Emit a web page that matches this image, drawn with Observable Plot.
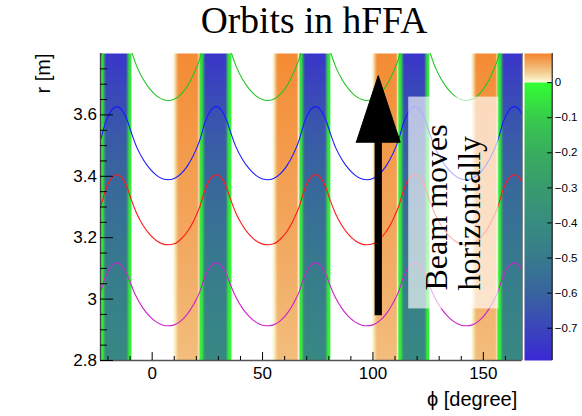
<!DOCTYPE html>
<html>
<head>
<meta charset="utf-8">
<script src="https://cdn.jsdelivr.net/npm/d3@7"></script>
<script src="https://cdn.jsdelivr.net/npm/@observablehq/plot@0.6"></script>
<style>
  body { margin: 0; background: #fff; }
  #chart { position: relative; width: 582px; height: 416px; overflow: hidden; }
  #chart svg { position: absolute; top: 0; }
  #title {
    position: absolute; left: 0; top: 2px; width: 628px; text-align: center;
    font: 37.5px "Liberation Serif", "Times New Roman", serif; line-height: 37.5px; color: #000;
  }
</style>
</head>
<body>
<div id="chart"><div id="title">Orbits in hFFA</div></div>
<script>
// ---- Lattice: every 45° cell holds an F magnet followed directly by a D magnet ----
const cellStart = [-35, 10, 55, 100, 145];               // φ of each F-magnet entrance [degree]
// Field profile across one cell, φ offset from the F entrance, as a fraction of peak F / D field
const profileOffset = [-0.6, 0, 1.9, 10.5, 11.3, 11.5, 11.6, 12.8, 14.0, 23.3, 24.3, 25.4, 25.7];
const profileF      = [0, 0.08, 1, 1, 0.1, 0, 0, 0, 0, 0, 0, 0, 0];
const profileD      = [0, 0, 0, 0, 0, 0, 0.05, 0.12, 1, 1, 0.12, 0.05, 0];
// Peak vertical field [T] of the F and D magnets at each radius
const fieldR = [2.8, 3.0, 3.2, 3.4, 3.6, 3.8];
const fieldF = [0.040, 0.047, 0.055, 0.062, 0.070, 0.078];
const fieldD = [-0.42, -0.47, -0.53, -0.59, -0.66, -0.75];

// ---- Closed orbits over one cell (φ offset from the F entrance) ----
const orbitOffset = [-2.8, 0, 3, 6, 9, 11.5, 14, 16.5, 19, 21.5, 24, 25.5, 28, 31, 34, 37, 40];
const orbitGreen   = [3.647, 3.651, 3.667, 3.694, 3.736, 3.781, 3.845, 3.884, 3.897, 3.884, 3.845, 3.810, 3.759, 3.715, 3.684, 3.662, 3.650];
const orbitBlue    = [3.389, 3.393, 3.408, 3.434, 3.473, 3.516, 3.577, 3.614, 3.627, 3.614, 3.577, 3.544, 3.495, 3.454, 3.424, 3.403, 3.391];
const orbitRed     = [3.177, 3.180, 3.195, 3.220, 3.258, 3.299, 3.357, 3.393, 3.405, 3.393, 3.357, 3.325, 3.279, 3.239, 3.210, 3.190, 3.179];
const orbitMagenta = [2.913, 2.916, 2.929, 2.952, 2.986, 3.022, 3.075, 3.107, 3.118, 3.107, 3.075, 3.046, 3.005, 2.969, 2.943, 2.925, 2.915];

// ---- Axes ----
const xMajor = [0, 50, 100, 150];
const xTickLabels = ["0", "50", "100", "150"];
const xMinor = [-20, -10, 10, 20, 30, 40, 60, 70, 80, 90, 110, 120, 130, 140, 160];
const yMajor = [2.8, 3.0, 3.2, 3.4, 3.6];
const yTickLabels = ["2.8", "3", "3.2", "3.4", "3.6"];
const yMinor = [2.85, 2.9, 2.95, 3.05, 3.1, 3.15, 3.25, 3.3, 3.35, 3.45, 3.5, 3.55, 3.65, 3.7, 3.75];
const barTicks = [0, -0.1, -0.2, -0.3, -0.4, -0.5, -0.6, -0.7];
const barTickLabels = ["0", "\u22120.1", "\u22120.2", "\u22120.3", "\u22120.4", "\u22120.5", "\u22120.6", "\u22120.7"];

// ---- Annotation ----
const noteLines = [{text: "Beam moves", phi: 133.5}, {text: "horizontally", phi: 148.7}];
const noteStartR = 3.028;
const noteBox = {phi1: 116.2, phi2: 157.0, r1: 2.968, r2: 3.658};
const arrowPhi = 102.4, arrowTail = 2.947, arrowHeadBase = 3.511, arrowTip = 3.728, arrowHalfWidth = 9.95;

// ---- Colour palette of the field map (white where the field is exactly zero) ----
const colorStops = [-0.792, -0.7, -0.6, -0.5, -0.4, -0.3, -0.2, -0.1, -0.0001, 0, 0.0001, 0.005, 0.022, 0.05, 0.083];
const colorRange = ["#3b28d6", "#3a46bc", "#38649f", "#377b8d", "#378c80", "#389b6f", "#38ad5f", "#37cc4c",
                    "#33ff33", "#ffffff", "#fffbe8", "#fdf3d2", "#f5d9a0", "#f2ae68", "#f5852a"];
const colorScale = {type: "linear", domain: colorStops, range: colorRange, interpolate: "rgb", clamp: true};

// Field samples on the (φ, r) grid
const fieldPts = [];
for (const c of cellStart)
  profileOffset.forEach((o, i) =>
    fieldR.forEach((r, j) =>
      fieldPts.push({phi: c + o, r, b: fieldF[j] * profileF[i] + fieldD[j] * profileD[i]})));

// Orbit points, one period per lattice cell
const orbitSets = [
  {r: orbitGreen, color: "#22c422"},
  {r: orbitBlue, color: "#1a1aff"},
  {r: orbitRed, color: "#ff1a1a"},
  {r: orbitMagenta, color: "#cc22cc"}
];
const orbitPts = o => cellStart.flatMap(c => orbitOffset.map((d, i) => ({phi: c + d, r: o.r[i]})));

const W = 582, H = 416, mL = 100, mR = 60.3, mT = 53, mB = 56;
const frameW = W - mL - mR, frameH = H - mT - mB;
const xDomain = [-23.4, 167.6], yDomain = [2.8, 3.8];
const sans = "Liberation Sans, Arial, Helvetica, sans-serif";
const serif = "Liberation Serif, Times New Roman, serif";

const main = Plot.plot({
  width: W, height: H,
  marginLeft: mL, marginRight: mR, marginTop: mT, marginBottom: mB,
  x: {domain: xDomain, axis: null},
  y: {domain: yDomain, axis: null},
  color: colorScale,
  style: {background: "transparent", overflow: "visible"},
  marks: [
    Plot.raster(fieldPts, {x: "phi", y: "r", fill: "b", interpolate: "barycentric",
      x1: xDomain[0], x2: xDomain[1], y1: yDomain[0], y2: yDomain[1]}),
    ...orbitSets.map(o => Plot.line(orbitPts(o), {x: "phi", y: "r", stroke: o.color, strokeWidth: 1.1,
      curve: "monotone-x", clip: true})),
    // frame lines
    Plot.ruleX([xDomain[0]], {stroke: "#444", strokeWidth: 1.3}),
    Plot.ruleX([xDomain[1]], {stroke: "#666", strokeWidth: 1}),
    Plot.ruleY([yDomain[0]], {stroke: "#555", strokeWidth: 1.5}),
    // inward ticks
    Plot.tickX(xMajor, {x: d => d, insetTop: frameH - 8, stroke: "#000"}),
    Plot.tickX(xMinor, {x: d => d, insetTop: frameH - 4, stroke: "#000"}),
    Plot.tickY(yMajor, {y: d => d, insetRight: frameW - 13, stroke: "#000"}),
    Plot.tickY(yMinor, {y: d => d, insetRight: frameW - 7, stroke: "#000"}),
    // tick labels
    Plot.text(xMajor, {x: d => d, text: (d, i) => xTickLabels[i], frameAnchor: "bottom", lineAnchor: "top",
      dy: 6, fontSize: 17, fontFamily: sans, fill: "#000"}),
    Plot.text(yMajor, {y: d => d, text: (d, i) => yTickLabels[i], frameAnchor: "left", textAnchor: "end",
      dx: -3.5, fontSize: 17, fontFamily: sans, fill: "#000"}),
    // axis titles
    Plot.text(["r [m]"], {frameAnchor: "top-left", rotate: -90, textAnchor: "end", dx: -65, dy: 0,
      fontSize: 20, fontFamily: sans, fill: "#000"}),
    Plot.text(["\u03d5 [degree]"], {frameAnchor: "bottom-right", textAnchor: "end", lineAnchor: "bottom",
      dx: -5, dy: 45, fontSize: 20, fontFamily: sans, fill: "#000"}),
    // note box and text
    Plot.rect([noteBox], {x1: "phi1", x2: "phi2", y1: "r1", y2: "r2", fill: "white", fillOpacity: 0.65}),
    Plot.text(noteLines, {x: "phi", y: () => noteStartR, text: "text", rotate: -90, textAnchor: "start",
      lineAnchor: "bottom", fontSize: 32, fontFamily: serif, fill: "#000"}),
    // arrow
    Plot.line([{phi: arrowPhi, r: arrowTail}, {phi: arrowPhi, r: arrowHeadBase + 0.01}],
      {x: "phi", y: "r", stroke: "#000", strokeWidth: 7.3, strokeLinecap: "butt"}),
    Plot.line([
        {phi: arrowPhi - arrowHalfWidth, r: arrowHeadBase},
        {phi: arrowPhi, r: arrowTip},
        {phi: arrowPhi + arrowHalfWidth, r: arrowHeadBase},
        {phi: arrowPhi - arrowHalfWidth, r: arrowHeadBase}
      ], {x: "phi", y: "r", fill: "#000", stroke: "#000", strokeWidth: 1})
  ]
});

// Colour bar to the right of the frame
const cbLeft = 520, cbW = 62, cbML = 4, cbMR = 30.3;
const bar = Plot.plot({
  width: cbW, height: H,
  marginLeft: cbML, marginRight: cbMR, marginTop: mT, marginBottom: mB,
  x: {domain: [0, 1], axis: null},
  y: {domain: [colorStops[0], colorStops[colorStops.length - 1]], axis: null},
  color: colorScale,
  style: {background: "transparent", overflow: "visible"},
  marks: [
    Plot.raster({fill: (x, y) => y, x1: 0, x2: 1, y1: colorStops[0], y2: colorStops[colorStops.length - 1]}),
    Plot.ruleX([1], {stroke: "#000", strokeWidth: 1}),
    Plot.tickY(barTicks, {y: d => d, insetLeft: (cbW - cbML - cbMR) - 4.5, stroke: "#000"}),
    Plot.text(barTicks, {y: d => d, text: (d, i) => barTickLabels[i], frameAnchor: "right", textAnchor: "start",
      dx: 2.6, fontSize: 11.5, fontFamily: sans, fill: "#000"})
  ]
});
bar.style.left = cbLeft + "px";

const chart = document.getElementById("chart");
chart.appendChild(main);
chart.appendChild(bar);
main.style.left = "0px";
</script>
</body>
</html>
